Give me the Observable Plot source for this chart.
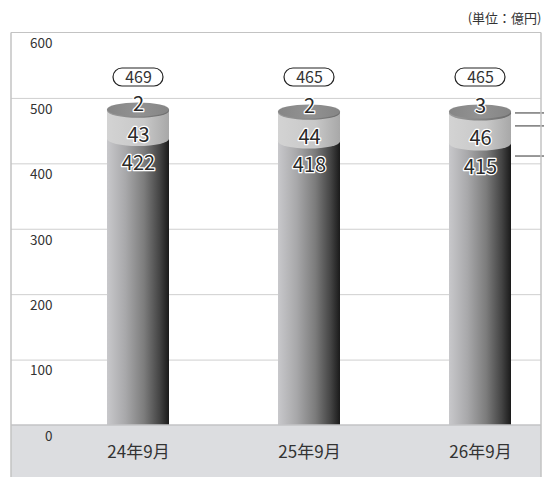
<!DOCTYPE html>
<html><head><meta charset="utf-8">
<script src="https://cdn.jsdelivr.net/npm/d3@7"></script>
<script src="https://cdn.jsdelivr.net/npm/@observablehq/plot@0.6"></script>
<style>body{margin:0;background:#fff}</style>
</head><body><div id="chart"></div>
<script>
const categories = ["24年9月", "25年9月", "26年9月"];
const bottomValues = [422, 418, 415];
const middleValues = [43, 44, 46];
const topValues = [2, 2, 3];
const totals = [469, 465, 465];
const yTicks = [0, 100, 200, 300, 400, 500, 600];
const unitLabel = "(単位：億円)";

const rows = categories.map((c, i) => ({
  cat: c, b: bottomValues[i], m: middleValues[i], t: topValues[i], total: totals[i]
}));

const D = 10, RY = 7, PILL_DY = 44.5;

function bw(scales) { return scales.x.bandwidth ? scales.x.bandwidth() : 62; }

function gradient(defs, id, stops) {
  const g = defs.append("linearGradient").attr("id", id)
    .attr("x1", 0).attr("x2", 1).attr("y1", 0).attr("y2", 0);
  for (const [o, c] of stops) g.append("stop").attr("offset", o).attr("stop-color", c);
}

function frameMark(index, scales, values, dims) {
  const g = d3.create("svg:g");
  const L = dims.marginLeft, R = dims.width - dims.marginRight, T = dims.marginTop;
  const y0 = scales.y(0);
  g.append("rect").attr("x", L).attr("y", y0).attr("width", R - L).attr("height", dims.height - y0).attr("fill", "#dcdde0");
  g.append("line").attr("x1", L).attr("x2", R).attr("y1", y0).attr("y2", y0).attr("stroke", "#c3c3c6").attr("stroke-width", 1.5);
  g.append("line").attr("x1", L).attr("x2", R).attr("y1", T).attr("y2", T).attr("stroke", "#c3c3c3").attr("stroke-width", 1.2);
  for (const x of [L, R]) g.append("line").attr("x1", x).attr("x2", x).attr("y1", T).attr("y2", dims.height).attr("stroke", "#c3c3c3").attr("stroke-width", 1.5);
  return g.node();
}

function cylinders(index, scales, values, dims) {
  const g = d3.create("svg:g");
  const defs = g.append("defs");
  gradient(defs, "bodyGrad", [[0, "#c8c8cb"], [0.3, "#a8a8aa"], [0.6, "#7c7c7c"], [0.85, "#444"], [1, "#1a1a1a"]]);
  gradient(defs, "lightGrad", [[0, "#d3d3d3"], [0.6, "#c8c8c8"], [1, "#a8a8a8"]]);
  gradient(defs, "darkGrad", [[0, "#9c9c9c"], [1, "#6c6c6c"]]);
  gradient(defs, "faceGrad", [[0, "#868686"], [0.5, "#929292"], [1, "#858585"]]);
  const w = bw(scales);
  for (const r of rows) {
    const x0 = scales.x(r.cat), cx = x0 + w / 2, rx = w / 2;
    const yb = scales.y(0);
    const y1 = scales.y(r.b) - D, y2 = scales.y(r.b + r.m) - D, y3 = scales.y(r.b + r.m + r.t) - D;
    g.append("rect").attr("x", x0).attr("y", y1).attr("width", w).attr("height", yb - y1).attr("fill", "url(#bodyGrad)");
    g.append("rect").attr("x", x0).attr("y", y2).attr("width", w).attr("height", y1 - y2).attr("fill", "url(#lightGrad)");
    g.append("ellipse").attr("cx", cx).attr("cy", y1).attr("rx", rx).attr("ry", RY).attr("fill", "url(#lightGrad)");
    g.append("rect").attr("x", x0).attr("y", y3).attr("width", w).attr("height", y2 - y3).attr("fill", "url(#darkGrad)");
    g.append("ellipse").attr("cx", cx).attr("cy", y2).attr("rx", rx).attr("ry", RY).attr("fill", "url(#darkGrad)");
    g.append("ellipse").attr("cx", cx).attr("cy", y3).attr("rx", rx).attr("ry", RY).attr("fill", "url(#faceGrad)");
  }
  const last = rows[rows.length - 1];
  const xs = scales.x(last.cat) + w + 4;
  const ls = [
    scales.y(last.b + last.m + last.t) - D + 1.5,
    scales.y(last.b + last.m) - D + 12.5,
    scales.y(last.b) - D + 12.5
  ];
  for (const ly of ls) g.append("line").attr("x1", xs).attr("x2", dims.width).attr("y1", ly).attr("y2", ly).attr("stroke", "#333").attr("stroke-width", 1);
  return g.node();
}

function pills(index, scales, values, dims) {
  const g = d3.create("svg:g");
  const w = bw(scales);
  const cy = dims.marginTop + PILL_DY;
  for (const r of rows) {
    const cx = scales.x(r.cat) + w / 2;
    g.append("rect").attr("x", cx - 25).attr("y", cy - 9).attr("width", 50).attr("height", 18)
      .attr("rx", 9).attr("fill", "#fff").attr("stroke", "#222").attr("stroke-width", 1.2);
  }
  return g.node();
}

const chart = Plot.plot({
  width: 544, height: 477,
  marginTop: 32.5, marginBottom: 52, marginLeft: 11, marginRight: 3,
  x: {type: "band", domain: categories, range: [51, 566], paddingInner: 0.64, paddingOuter: 0.32, axis: null},
  y: {domain: [0, 600], axis: null},
  style: {fontFamily: "'Noto Sans CJK JP', 'Noto Sans', sans-serif", background: "#fff", overflow: "visible"},
  marks: [
    Plot.ruleY(yTicks.filter(v => v > 0 && v < 600), {stroke: "#cfcfcf", strokeWidth: 1, strokeOpacity: 1}),
    cylinders,
    frameMark,
    pills,
    Plot.text(yTicks, {y: d => d, text: d => String(d), frameAnchor: "left", dx: 41, dy: 11, textAnchor: "end", lineAnchor: "middle", fontSize: 13.5, fill: "#333"}),
    Plot.text(categories, {x: d => d, text: d => d, frameAnchor: "bottom", dy: 27, lineAnchor: "middle", fontSize: 17, fill: "#333"}),
    Plot.text([unitLabel], {text: d => d, frameAnchor: "top-right", dy: -14, textAnchor: "end", lineAnchor: "middle", fontSize: 13, fill: "#333"}),
    Plot.text(rows, {x: "cat", text: d => String(d.total), frameAnchor: "top", dy: PILL_DY, lineAnchor: "middle", fontSize: 16, fill: "#333"}),
    Plot.text(rows, {x: "cat", y: d => d.b, text: d => String(d.b), dy: 14, lineAnchor: "middle", fontSize: 20, fill: "#2a2a2a", stroke: "#fff", strokeWidth: 2.5}),
    Plot.text(rows, {x: "cat", y: d => d.b + d.m / 2, text: d => String(d.m), lineAnchor: "middle", fontSize: 20, fill: "#2a2a2a", stroke: "#fff", strokeWidth: 2.5}),
    Plot.text(rows, {x: "cat", y: d => d.b + d.m + d.t, text: d => String(d.t), dy: -15, lineAnchor: "middle", fontSize: 20, fill: "#2a2a2a", stroke: "#fff", strokeWidth: 2.5})
  ]
});
document.getElementById("chart").appendChild(chart);
</script>
</body></html>
